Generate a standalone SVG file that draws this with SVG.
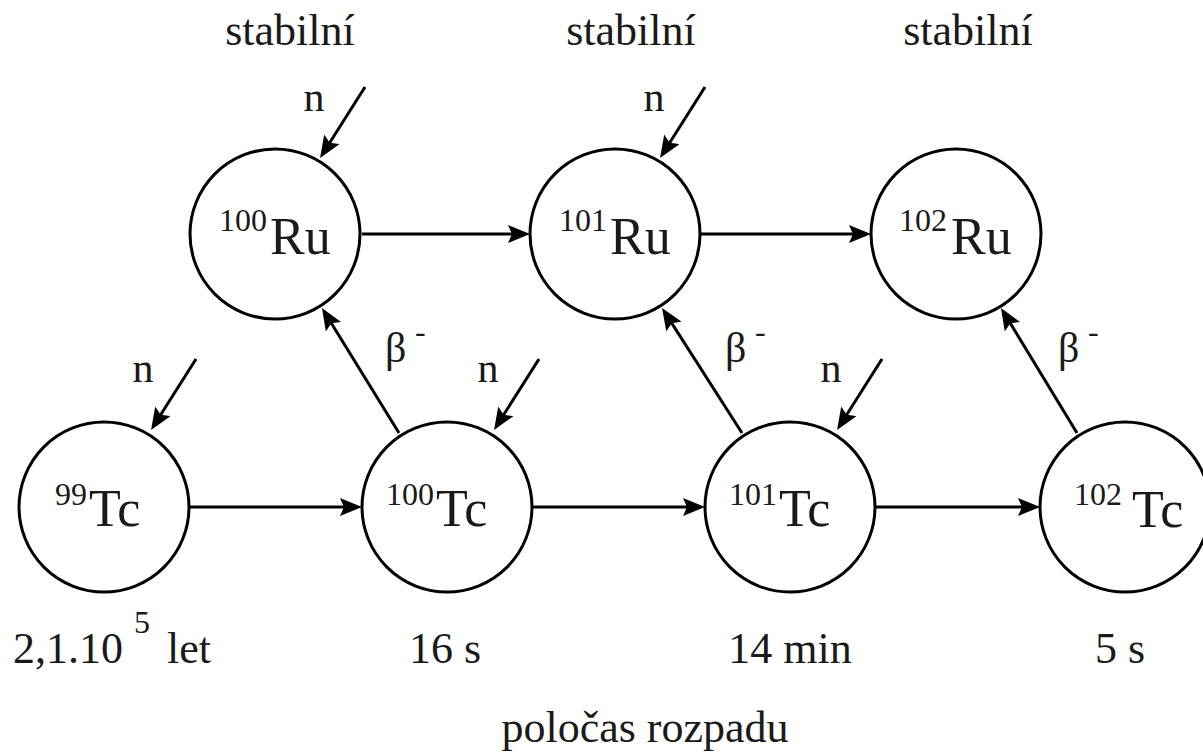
<svg xmlns="http://www.w3.org/2000/svg" width="1203" height="753" viewBox="0 0 1203 753">
<style>
text{font-family:"Liberation Serif","DejaVu Serif","Noto Serif",serif;fill:#1a1a1a}
.node{fill:#fff;stroke:#000;stroke-width:3}
.main{font-size:52px}
.sup{font-size:32px}
.lbl{font-size:44px}
.n{font-size:42px}
.b{font-size:42px}
.conn line{stroke:#000;stroke-width:3;marker-end:url(#ah)}
</style>
<defs>
<marker id="ah" markerUnits="userSpaceOnUse" markerWidth="22" markerHeight="18" refX="12" refY="9" orient="auto">
<path d="M0,0 L22,9 L0,18 L4,9 Z" fill="#000"/>
</marker>
</defs>
<rect width="1203" height="753" fill="#fff"/>
<g class="conn">
<line x1="362" y1="234" x2="520" y2="234"/>
<line x1="700" y1="234" x2="861" y2="234"/>
<line x1="190" y1="507" x2="352" y2="507"/>
<line x1="532" y1="507" x2="695" y2="507"/>
<line x1="875" y1="507" x2="1030" y2="507"/>
<line x1="399" y1="433" x2="327.2" y2="316.5"/>
<line x1="742" y1="433" x2="667.4" y2="316.4"/>
<line x1="1077" y1="433" x2="1006.2" y2="316.5"/>
<line x1="365" y1="87" x2="325.4" y2="149.5"/>
<line x1="705" y1="87" x2="665.4" y2="149.5"/>
<line x1="196" y1="359" x2="156.4" y2="421.5"/>
<line x1="539" y1="359" x2="499.4" y2="421.5"/>
<line x1="882" y1="359" x2="842.4" y2="421.5"/>
</g>
<g id="ru100"><circle class="node" cx="275" cy="234" r="85"/><text class="sup" x="219" y="231">100</text><text class="main" x="270" y="254">Ru</text></g>
<g id="ru101"><circle class="node" cx="615" cy="234" r="85"/><text class="sup" x="559" y="231">101</text><text class="main" x="610" y="254">Ru</text></g>
<g id="ru102"><circle class="node" cx="956" cy="234" r="85"/><text class="sup" x="899" y="231">102</text><text class="main" x="951" y="254">Ru</text></g>
<g id="tc99"><circle class="node" cx="104" cy="507" r="85"/><text class="sup" x="55" y="505">99</text><text class="main" x="89" y="526">Tc</text></g>
<g id="tc100"><circle class="node" cx="447" cy="507" r="85"/><text class="sup" x="386" y="505">100</text><text class="main" x="436" y="526">Tc</text></g>
<g id="tc101"><circle class="node" cx="790" cy="507" r="85"/><text class="sup" x="729" y="505">101</text><text class="main" x="779" y="526">Tc</text></g>
<g id="tc102"><circle class="node" cx="1125" cy="507" r="85"/><text class="sup" x="1074" y="505">102</text><text class="main" x="1132" y="527">Tc</text></g>
<g id="labels">
<text class="lbl" x="290" y="45" text-anchor="middle">stabilní</text>
<text class="lbl" x="631" y="45" text-anchor="middle">stabilní</text>
<text class="lbl" x="968" y="45" text-anchor="middle">stabilní</text>
<text class="n" x="314" y="111" text-anchor="middle">n</text>
<text class="n" x="654" y="111" text-anchor="middle">n</text>
<text class="n" x="143" y="382" text-anchor="middle">n</text>
<text class="n" x="488" y="382" text-anchor="middle">n</text>
<text class="n" x="831" y="382" text-anchor="middle">n</text>
<text class="b" x="385" y="362">β</text><text class="sup" x="415" y="342">-</text>
<text class="b" x="725" y="362">β</text><text class="sup" x="755" y="342">-</text>
<text class="b" x="1058" y="362">β</text><text class="sup" x="1088" y="342">-</text>
<text class="lbl" x="13" y="663">2,1.10<tspan class="sup" x="134" dy="-30">5</tspan><tspan dy="30" x="167">let</tspan></text>
<text class="lbl" x="445" y="663" text-anchor="middle">16 s</text>
<text class="lbl" x="790" y="663" text-anchor="middle">14 min</text>
<text class="lbl" x="1120" y="663" text-anchor="middle">5 s</text>
<text class="lbl" x="645" y="742" text-anchor="middle">poločas rozpadu</text>
</g>
</svg>
